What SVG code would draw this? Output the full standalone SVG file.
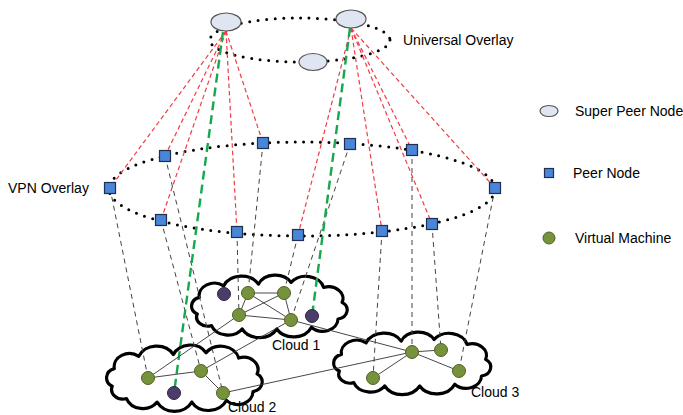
<svg xmlns="http://www.w3.org/2000/svg" width="683" height="415" viewBox="0 0 683 415">
<style>
text{font-family:"Liberation Sans",Arial,sans-serif;font-size:14px;fill:#000}
.dots{fill:none;stroke:#000;stroke-width:3;stroke-linecap:round;stroke-dasharray:0 8.5}
.red{stroke:#f03c44;stroke-width:1.2;stroke-dasharray:4.5 3;fill:none}
.green{stroke:#16a84e;stroke-width:2.4;stroke-dasharray:9 5;fill:none}
.gray{stroke:#444;stroke-width:1;stroke-dasharray:5 4;fill:none}
.link{stroke:#333;stroke-width:0.9;fill:none}
.cloud{fill:#fff;stroke:#000;stroke-width:3.2;stroke-linejoin:round}
.sp{fill:#dfe6f2;stroke:#555;stroke-width:1.2}
.pn{fill:#4a86d8;stroke:#1f2f4f;stroke-width:1.2}
.vm{fill:#76923c;stroke:#4f6228;stroke-width:1}
.pvm{fill:#4a3d6a;stroke:#2e2640;stroke-width:1}
</style>
<defs>
<path id="cloudShape" vector-effect="non-scaling-stroke" d="M12,44 A11,11 0 0 1 14,24 A15,15 0 0 1 38,10 A19,19 0 0 1 72,8 A18,18 0 0 1 104,6 A18,18 0 0 1 136,12 A14,14 0 0 1 154,30 A11,11 0 0 1 150,50 A15,15 0 0 1 124,60 A19,19 0 0 1 90,62 A19,19 0 0 1 56,62 A17,17 0 0 1 26,58 A11,11 0 0 1 12,44 Z"/>
</defs>

<g id="overlays">
<ellipse class="dots" cx="300" cy="40" rx="90" ry="22"/>
<ellipse class="dots" cx="302" cy="189" rx="193" ry="47"/>
</g>

<g id="clouds">
<use href="#cloudShape" class="cloud" transform="translate(185,277.5) scale(1.02,0.83)"/>
<use href="#cloudShape" class="cloud" transform="translate(100,347.5) scale(1.02,0.88)"/>
<use href="#cloudShape" class="cloud" transform="translate(327,334.5) scale(1.03,0.83)"/>
</g>

<g id="connectors">
<line class="red" x1="226" y1="31" x2="110" y2="188"/>
<line class="red" x1="226" y1="31" x2="165" y2="156"/>
<line class="red" x1="226" y1="31" x2="161" y2="220"/>
<line class="red" x1="226" y1="31" x2="237" y2="232"/>
<line class="red" x1="226" y1="31" x2="263" y2="143"/>
<line class="red" x1="351" y1="28" x2="298" y2="235"/>
<line class="red" x1="351" y1="28" x2="382" y2="231"/>
<line class="red" x1="351" y1="28" x2="412" y2="150"/>
<line class="red" x1="351" y1="28" x2="432" y2="224"/>
<line class="red" x1="351" y1="28" x2="495" y2="188"/>
<line class="gray" x1="110" y1="188" x2="148" y2="378"/>
<line class="gray" x1="165" y1="156" x2="223" y2="393"/>
<line class="gray" x1="161" y1="220" x2="201" y2="371"/>
<line class="gray" x1="237" y1="232" x2="239" y2="315"/>
<line class="gray" x1="263" y1="143" x2="248" y2="293"/>
<line class="gray" x1="298" y1="235" x2="284" y2="293"/>
<line class="gray" x1="350" y1="144" x2="291" y2="320"/>
<line class="gray" x1="382" y1="231" x2="373" y2="378"/>
<line class="gray" x1="412" y1="150" x2="412" y2="352"/>
<line class="gray" x1="432" y1="224" x2="441" y2="350"/>
<line class="gray" x1="495" y1="188" x2="459" y2="371"/>
<line class="green" x1="223" y1="32" x2="174" y2="393"/>
<line class="green" x1="350" y1="28" x2="312" y2="316"/>
<line class="link" x1="248" y1="293" x2="284" y2="293"/>
<line class="link" x1="248" y1="293" x2="239" y2="315"/>
<line class="link" x1="248" y1="293" x2="291" y2="320"/>
<line class="link" x1="284" y1="293" x2="291" y2="320"/>
<line class="link" x1="284" y1="293" x2="239" y2="315"/>
<line class="link" x1="239" y1="315" x2="291" y2="320"/>
<line class="link" x1="291" y1="320" x2="412" y2="352"/>
<line class="link" x1="239" y1="315" x2="148" y2="378"/>
<line class="link" x1="291" y1="320" x2="201" y2="371"/>
<line class="link" x1="148" y1="378" x2="201" y2="371"/>
<line class="link" x1="201" y1="371" x2="223" y2="393"/>
<line class="link" x1="223" y1="393" x2="412" y2="352"/>
<line class="link" x1="412" y1="352" x2="441" y2="350"/>
<line class="link" x1="412" y1="352" x2="373" y2="378"/>
<line class="link" x1="412" y1="352" x2="459" y2="371"/>
</g>

<g id="superpeers">
<ellipse id="spA" class="sp" cx="226" cy="22" rx="15" ry="9"/>
<ellipse id="spB" class="sp" cx="351" cy="19" rx="15" ry="9"/>
<ellipse id="spC" class="sp" cx="313" cy="62" rx="14" ry="8.5"/>
</g>

<g id="peers">
<rect id="p1" class="pn" x="104.5" y="182.5" width="11" height="11"/>
<rect id="p2" class="pn" x="159.5" y="150.5" width="11" height="11"/>
<rect id="p3" class="pn" x="257.5" y="137.5" width="11" height="11"/>
<rect id="p4" class="pn" x="344.5" y="138.5" width="11" height="11"/>
<rect id="p5" class="pn" x="406.5" y="144.5" width="11" height="11"/>
<rect id="p6" class="pn" x="489.5" y="182.5" width="11" height="11"/>
<rect id="p7" class="pn" x="155.5" y="214.5" width="11" height="11"/>
<rect id="p8" class="pn" x="231.5" y="226.5" width="11" height="11"/>
<rect id="p9" class="pn" x="292.5" y="229.5" width="11" height="11"/>
<rect id="p10" class="pn" x="376.5" y="225.5" width="11" height="11"/>
<rect id="p11" class="pn" x="426.5" y="218.5" width="11" height="11"/>
</g>

<g id="vms">
<circle class="pvm" cx="224" cy="294" r="6.5"/>
<circle class="vm" cx="248" cy="293" r="6.5"/>
<circle class="vm" cx="284" cy="293" r="6.5"/>
<circle class="vm" cx="239" cy="315" r="6.5"/>
<circle class="vm" cx="291" cy="320" r="6.5"/>
<circle class="pvm" cx="312" cy="316" r="6.5"/>
<circle class="vm" cx="148" cy="378" r="6.5"/>
<circle class="vm" cx="201" cy="371" r="6.5"/>
<circle class="vm" cx="223" cy="393" r="6.5"/>
<circle class="pvm" cx="174" cy="393" r="6.5"/>
<circle class="vm" cx="412" cy="352" r="6.5"/>
<circle class="vm" cx="441" cy="350" r="6.5"/>
<circle class="vm" cx="373" cy="378" r="6.5"/>
<circle class="vm" cx="459" cy="371" r="6.5"/>
</g>

<g id="labels">
<text x="403" y="45">Universal Overlay</text>
<text x="8" y="193">VPN Overlay</text>
<text x="272" y="350">Cloud 1</text>
<text x="228" y="412">Cloud 2</text>
<text x="471" y="397">Cloud 3</text>
</g>

<g id="legend">
<ellipse class="sp" cx="549" cy="111" rx="9" ry="5.5"/>
<text x="575" y="116">Super Peer Node</text>
<rect class="pn" x="544.5" y="168.5" width="9" height="9"/>
<text x="573" y="178">Peer Node</text>
<circle class="vm" cx="549" cy="238" r="6"/>
<text x="575" y="243">Virtual Machine</text>
</g>
</svg>
